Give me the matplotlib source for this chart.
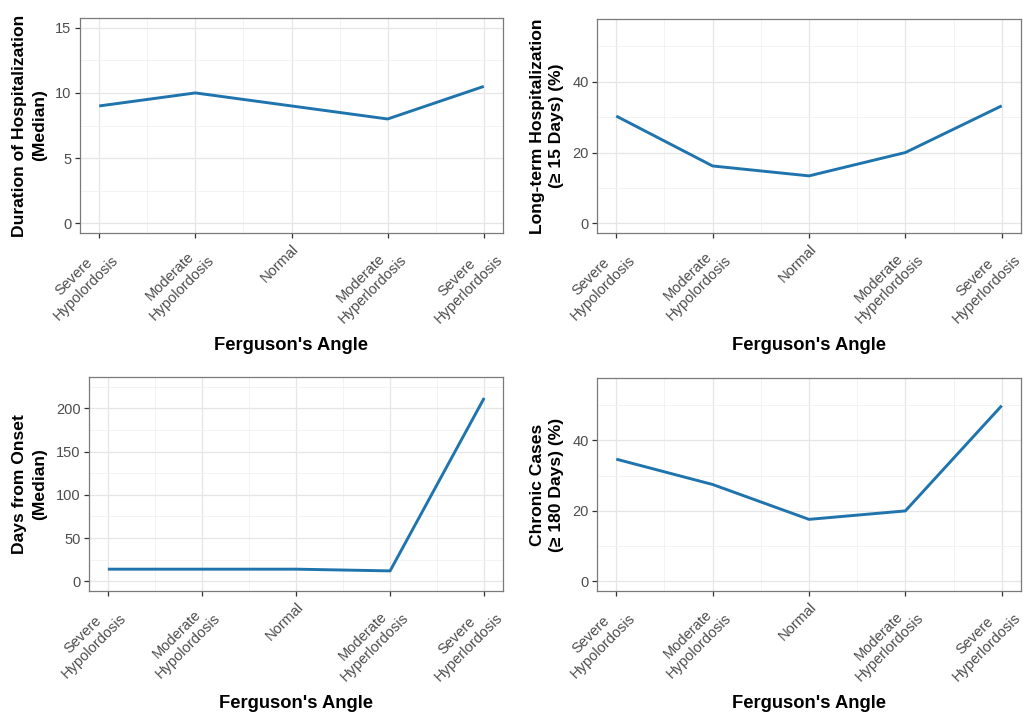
import numpy as np
import matplotlib
matplotlib.use("Agg")
import matplotlib.pyplot as plt
from matplotlib.transforms import ScaledTranslation

plt.rcParams['font.family'] = ['Liberation Sans', 'DejaVu Sans']

# data
categories = ["Severe\nHypolordosis", "Moderate\nHypolordosis", "Normal",
              "Moderate\nHyperlordosis", "Severe\nHyperlordosis"]
duration_median = [9, 10, 9, 8, 10.5]
long_term_pct = [30.3, 16.2, 13.4, 20.0, 33.2]
onset_days_median = [14, 14, 14, 12, 212]
chronic_pct = [34.7, 27.5, 17.6, 20.0, 49.9]

W, H = 1028, 717
fig = plt.figure(figsize=(W / 100, H / 100), dpi=100)
fig.patch.set_facecolor("white")

LINE = "#1f74ad"


def px_axes(x0, y0, x1, y1):
    return fig.add_axes([x0 / W, (H - y1) / H, (x1 - x0) / W, (y1 - y0) / H])


panels = [
    # (box, values, ylabel, limits, major step, ylabel x in axes coords)
    ((80, 18, 503, 233), duration_median, "Duration of Hospitalization\n(Median)", (0, 15), 5, -0.119),
    ((597, 19, 1021, 233), long_term_pct, "Long-term Hospitalization\n(\u2265 15 Days) (%)", (0, 55), 20, -0.118),
    ((89, 377, 503, 591), onset_days_median, "Days from Onset\n(Median)", (0, 225), 50, -0.144),
    ((597, 378, 1021, 591), chronic_pct, "Chronic Cases\n(\u2265 180 Days) (%)", (0, 55), 20, -0.118),
]

x = np.arange(1, len(categories) + 1)
shift = ScaledTranslation(0.10, -0.02, fig.dpi_scale_trans)

for box, vals, ylab, (lo, hi), step, ylx in panels:
    ax = px_axes(*box)
    ax.plot(x, vals, color=LINE, lw=2.1, solid_capstyle="butt", zorder=3)

    span = hi - lo
    major = np.arange(lo, hi + 0.01, step)
    ax.set_yticks(major)
    minor = np.arange(lo + step / 2, hi + 0.05 * span, step)
    ax.set_yticks(minor, minor=True)
    ax.set_xticks(x)
    ax.set_xticks(x[:-1] + 0.5, minor=True)
    ax.set_yticklabels([f"{v:g}" for v in major])
    ax.set_xticklabels(categories, rotation=45, ha="right", va="top",
                       rotation_mode="anchor", multialignment="center")
    for lab in ax.get_xticklabels():
        lab.set_transform(lab.get_transform() + shift)

    ax.set_ylim(lo - 0.05 * span, hi + 0.05 * span)
    ax.set_xlim(1 - 0.2, len(categories) + 0.2)

    ax.grid(which="major", color="#e6e6e6", lw=0.9, zorder=0)
    ax.grid(which="minor", color="#f1f1f1", lw=0.6, zorder=0)
    ax.set_axisbelow(True)

    ax.tick_params(which="major", length=3.6, width=0.9, color="#333333",
                   labelsize=10.5, labelcolor="#4d4d4d", pad=2.5)
    ax.tick_params(which="minor", length=0)
    for s in ax.spines.values():
        s.set_color("#7a7a7a")
        s.set_linewidth(0.9)

    ax.set_xlabel("Ferguson's Angle", fontsize=13.2, fontweight="bold", va="center")
    ax.xaxis.set_label_coords(0.5, -113 / (box[3] - box[1]))
    ax.set_ylabel(ylab, fontsize=12.6, fontweight="bold", va="center",
                  multialignment="center", linespacing=1.4)
    ax.yaxis.set_label_coords(ylx, 0.5)

fig.savefig("out.png", dpi=100)
